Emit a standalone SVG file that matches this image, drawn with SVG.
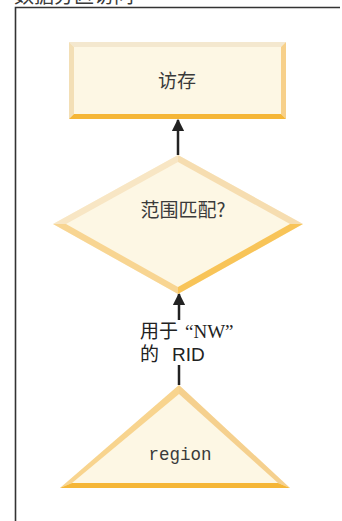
<svg xmlns="http://www.w3.org/2000/svg" width="342" height="521" viewBox="0 0 342 521">
<defs>
<style>
.cjk{font-family:"Noto Sans CJK SC","Liberation Sans",sans-serif;fill:#3a3a3a}
.lbl{font-family:"Liberation Sans","Noto Sans CJK SC",sans-serif;fill:#222;font-size:19px}
.fill{fill:#fdf7e4}
.conn{stroke:#222;stroke-width:2.5;fill:none}
</style>
<marker id="ah" viewBox="0 0 10 10" refX="9" refY="5" markerWidth="5" markerHeight="5" markerUnits="strokeWidth" orient="auto">
<path d="M0,0 L10,5 L0,10 z" fill="#222"/>
</marker>
</defs>
<rect width="342" height="521" fill="#fff"/>
<text class="cjk" x="14" y="3" font-size="20">数据分区访问</text>
<path d="M15.5,530 V7.5 H340" fill="none" stroke="#333" stroke-width="1.6"/>

<g id="connectors">
<line class="conn" x1="178" y1="155" x2="178" y2="120" marker-end="url(#ah)"/>
<line class="conn" x1="179" y1="320" x2="179" y2="294" marker-end="url(#ah)"/>
<line class="conn" x1="179" y1="365" x2="179" y2="385"/>
<text class="lbl" x="140" y="338">用于<tspan x="185" font-family="'Liberation Serif','Noto Sans CJK SC',serif">“NW”</tspan></text>
<text class="lbl" x="140" y="361">的<tspan x="172">RID</tspan></text>
</g>

<g id="node-access">
<rect class="fill" x="69" y="42" width="217" height="77"/>
<polygon points="69,42 286,42 281,47 74,47" fill="#f4e8cf"/>
<polygon points="69,42 74,47 74,114 69,119" fill="#f3dfb6"/>
<polygon points="286,42 281,47 281,114 286,119" fill="#f7d08a"/>
<polygon points="69,119 74,114 281,114 286,119" fill="#f5b637"/>
<text class="cjk" x="177" y="88" font-size="19" text-anchor="middle">访存</text>
</g>

<g id="node-range">
<polygon class="fill" points="178,155 303,224 178,294 53,224"/>
<polygon points="178,155 53,224 66,224 178,162" fill="#f8e6c4"/>
<polygon points="178,155 303,224 290,224 178,162" fill="#f6ddb0"/>
<polygon points="53,224 178,294 178,287 66,224" fill="#f8d592"/>
<polygon points="303,224 178,294 178,287 290,224" fill="#f8c458"/>
<text class="cjk" x="183" y="217" font-size="19" text-anchor="middle">范围匹配?</text>
</g>

<g id="node-region">
<polygon class="fill" points="179,385 290,488 60,488"/>
<polygon points="179,385 60,488 72,483 179,394" fill="#f8d48e"/>
<polygon points="179,385 290,488 278,483 179,394" fill="#f5d08e"/>
<polygon points="60,488 290,488 278,483 72,483" fill="#f5b637"/>
<text x="180" y="460" font-family="'Liberation Mono',monospace" font-size="17.5" fill="#3a3a3a" text-anchor="middle">region</text>
</g>
</svg>
